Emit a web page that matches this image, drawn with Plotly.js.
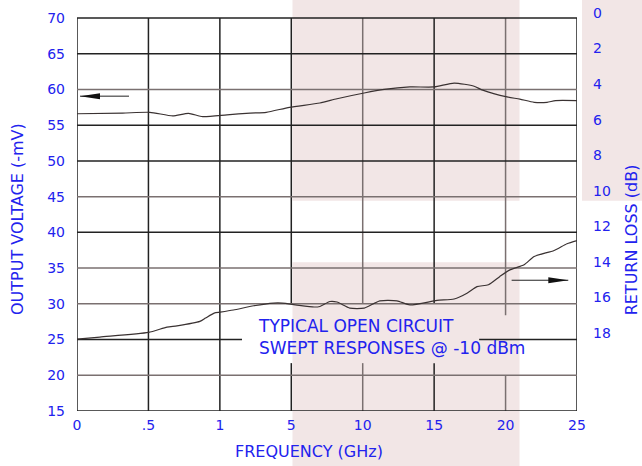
<!DOCTYPE html>
<html>
<head>
<meta charset="utf-8">
<script src="https://cdn.plot.ly/plotly-3.0.1.min.js"></script>
<style>
html,body{margin:0;padding:0;background:#fff;}
#chart{width:642px;height:466px;}
</style>
</head>
<body>
<div id="chart"></div>
<script>
// ---- data ----
const tickFreqs = [0, 0.5, 1, 5, 10, 15, 20, 25];
const tickLabels = ['0', '.5', '1', '5', '10', '15', '20', '25'];
const voltTicks = [15, 20, 25, 30, 35, 40, 45, 50, 55, 60, 65, 70];
const rlTicks = [0, 2, 4, 6, 8, 10, 12, 14, 16, 18];

// output voltage (-mV) vs frequency (GHz)
const voltFreq = [0, 0.32, 0.51, 0.67, 0.78, 0.88, 1.4, 2.7, 3.6, 4.9, 7.0, 8.2, 10.1, 11.5, 13.3, 15.0, 16.4, 17.8, 18.4, 20.1, 21.0, 22.0, 22.9, 23.5, 25];
const voltMV = [56.6, 56.7, 56.8, 56.3, 56.65, 56.2, 56.45, 56.7, 56.8, 57.5, 58.1, 58.7, 59.5, 60.0, 60.35, 60.35, 60.9, 60.45, 59.9, 58.95, 58.65, 58.2, 58.2, 58.45, 58.45];

// return loss (dB) vs frequency (GHz)
const rlFreq = [0, 0.16, 0.5, 0.63, 0.7, 0.86, 0.9, 0.96, 1.02, 1.76, 2.9, 4.0, 4.5, 5.4, 6.6, 7.0, 7.7, 8.2, 9.1, 10.1, 11.2, 12.4, 13.3, 15.2, 16.4, 17.3, 18.0, 18.8, 19.6, 20.3, 21.3, 22.0, 23.4, 24.3, 25];
const rlDB = [18.35, 18.23, 17.97, 17.67, 17.6, 17.35, 17.16, 16.88, 16.83, 16.71, 16.47, 16.32, 16.32, 16.43, 16.54, 16.51, 16.23, 16.26, 16.6, 16.6, 16.19, 16.19, 16.42, 16.17, 16.09, 15.76, 15.39, 15.29, 14.82, 14.45, 14.16, 13.7, 13.36, 12.98, 12.8];

// ---- piecewise frequency scale (equal spacing between labelled ticks) ----
function freqToPos(f) {
  for (let i = 0; i < tickFreqs.length - 1; i++) {
    if (f <= tickFreqs[i + 1]) {
      return i + (f - tickFreqs[i]) / (tickFreqs[i + 1] - tickFreqs[i]);
    }
  }
  return tickFreqs.length - 1;
}
const tickPos = tickFreqs.map(freqToPos);

const BLUE = '#2222ee';
const DARK = '#222222';
const GREY = '#7a7070';
const PINK = '#f2e6e6';
const FONT = 'DejaVu Sans, Verdana, sans-serif';

// grid style / gaps (gaps are where the note text sits)
const vColors = [DARK, DARK, DARK, DARK, GREY, DARK, GREY, DARK];
const hColors = [DARK, GREY, DARK, GREY, GREY, DARK, GREY, DARK, DARK, GREY, DARK, DARK];
const vGaps = {3: [21.7, 30], 4: [21.7, 30], 5: [21.7, 30], 6: [20, 28.4]};
const hSegments = {25: [[0, 2.31], [5.63, 7]]};

const shapes = [];
// pink bands (paper coords)
shapes.push({type: 'rect', xref: 'paper', yref: 'paper', x0: 0.431, x1: 0.885, y0: 0.528, y1: 1.05, fillcolor: PINK, line: {width: 0}, layer: 'below'});
shapes.push({type: 'rect', xref: 'paper', yref: 'paper', x0: 1.01, x1: 1.2, y0: 0.528, y1: 1.05, fillcolor: PINK, line: {width: 0}, layer: 'below'});
shapes.push({type: 'rect', xref: 'paper', yref: 'paper', x0: 0.431, x1: 0.885, y0: -0.2, y1: 0.374, fillcolor: PINK, line: {width: 0}, layer: 'below'});

// vertical grid lines
tickPos.forEach((p, i) => {
  const segs = vGaps[i] ? [[15, vGaps[i][0]], [vGaps[i][1], 70]] : [[15, 70]];
  segs.forEach(s => shapes.push({type: 'line', xref: 'x', yref: 'y', x0: p, x1: p, y0: s[0], y1: s[1], line: {color: vColors[i], width: 1.5}, layer: 'below'}));
});
// horizontal grid lines
voltTicks.forEach((v, i) => {
  const segs = hSegments[v] || [[0, 7]];
  segs.forEach(s => shapes.push({type: 'line', xref: 'x', yref: 'y', x0: s[0], x1: s[1], y0: v, y1: v, line: {color: hColors[i], width: 1.5}, layer: 'below'}));
});

// arrows indicating which axis each curve uses
const leftArrow = {x0: 0.042, x1: 0.728, y: 59.06};
const rightArrow = {x0: 6.085, x1: 6.878, y: 33.3};
shapes.push({type: 'line', xref: 'x', yref: 'y', x0: leftArrow.x0, x1: leftArrow.x1, y0: leftArrow.y, y1: leftArrow.y, line: {color: '#222', width: 1}});
shapes.push({type: 'path', xref: 'x', yref: 'y', xsizemode: 'pixel', ysizemode: 'pixel', xanchor: leftArrow.x0, yanchor: leftArrow.y, path: 'M0,0 L20,3 L20,-3 Z', fillcolor: '#111', line: {width: 0}});
shapes.push({type: 'line', xref: 'x', yref: 'y', x0: rightArrow.x0, x1: rightArrow.x1, y0: rightArrow.y, y1: rightArrow.y, line: {color: '#222', width: 1}});
shapes.push({type: 'path', xref: 'x', yref: 'y', xsizemode: 'pixel', ysizemode: 'pixel', xanchor: rightArrow.x1, yanchor: rightArrow.y, path: 'M0,0 L-20,3 L-20,-3 Z', fillcolor: '#111', line: {width: 0}});

const traces = [
  {x: voltFreq.map(freqToPos), y: voltMV, type: 'scatter', mode: 'lines', yaxis: 'y',
   line: {color: '#3a3232', width: 1.2, shape: 'spline', smoothing: 0.6}, hoverinfo: 'skip', showlegend: false},
  {x: rlFreq.map(freqToPos), y: rlDB, type: 'scatter', mode: 'lines', yaxis: 'y2',
   line: {color: '#3a3232', width: 1.2, shape: 'spline', smoothing: 0.6}, hoverinfo: 'skip', showlegend: false}
];

const layout = {
  width: 642, height: 466,
  margin: {l: 77, r: 65, t: 13, b: 55, pad: 0},
  paper_bgcolor: '#ffffff',
  plot_bgcolor: 'rgba(0,0,0,0)',
  showlegend: false,
  font: {family: FONT, color: BLUE, size: 14},
  xaxis: {
    range: [0, 7], tickvals: tickPos, ticktext: tickLabels,
    showgrid: false, zeroline: false, showline: false, ticks: '',
    ticklabelstandoff: 4, tickfont: {size: 14, color: BLUE, family: FONT}
  },
  yaxis: {
    range: [15, 70.70], tickvals: voltTicks,
    showgrid: false, zeroline: false, showline: false, ticks: '',
    ticklabelstandoff: 11, tickfont: {size: 14, color: BLUE, family: FONT}
  },
  yaxis2: {
    overlaying: 'y', side: 'right', range: [22.39, 0], tickvals: rlTicks,
    showgrid: false, zeroline: false, showline: false, ticks: '',
    ticklabelstandoff: 15, tickfont: {size: 14, color: BLUE, family: FONT}
  },
  shapes: shapes,
  annotations: [
    {xref: 'paper', yref: 'paper', x: 0.464, y: -0.102, xanchor: 'center', yanchor: 'middle', showarrow: false,
     text: 'FREQUENCY (GHz)', font: {size: 16, color: BLUE, family: FONT}},
    {xref: 'paper', yref: 'paper', x: -0.119, y: 0.481, xanchor: 'center', yanchor: 'middle', showarrow: false, textangle: -90,
     text: 'OUTPUT VOLTAGE (-mV)', font: {size: 16, color: BLUE, family: FONT}},
    {xref: 'paper', yref: 'paper', x: 1.109, y: 0.43, xanchor: 'center', yanchor: 'middle', showarrow: false, textangle: -90,
     text: 'RETURN LOSS (dB)', font: {size: 16, color: BLUE, family: FONT}},
    {xref: 'x', yref: 'y', x: 2.5, y: 25.35, xanchor: 'left', yanchor: 'middle', showarrow: false, align: 'left',
     text: 'TYPICAL OPEN CIRCUIT<br>SWEPT RESPONSES @ -10 dBm', font: {size: 17, color: BLUE, family: FONT}}
  ]
};

Plotly.newPlot('chart', traces, layout, {displayModeBar: false, staticPlot: true});
</script>
</body>
</html>
